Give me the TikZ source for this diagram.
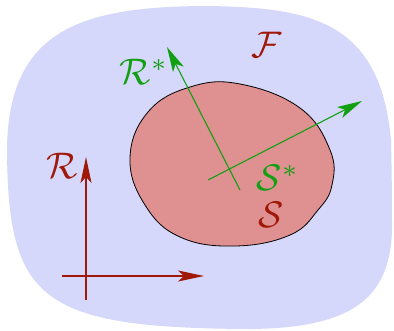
\documentclass[tikz,border=0pt]{standalone}
\usetikzlibrary{arrows.meta}
\definecolor{bgblue}{HTML}{D5D7FB}
\definecolor{blobred}{HTML}{DF9090}
\definecolor{dred}{HTML}{A01808}
\definecolor{dgreen}{HTML}{12A012}
\tikzset{
  lbl/.style={inner sep=0pt, scale=3.7, transform shape},
  redax/.style={draw=dred, line width=1.3pt, -{Stealth[length=26pt,width=11pt,inset=6pt]}},
  grnax/.style={draw=dgreen, line width=1.1pt, -{Stealth[length=25pt,width=12pt,inset=6pt]}}
}
\begin{document}
\begin{tikzpicture}[x=1pt,y=-1pt]
\useasboundingbox (0,0) rectangle (394,330);
% background region
\fill[bgblue] (7,150) .. controls (8,30) and (80,6) .. (210,6)
  .. controls (310,8) and (380,20) .. (391,140)
  .. controls (392,185) and (392,205) .. (392,230)
  .. controls (390,300) and (350,328) .. (250,329)
  .. controls (40,328) and (8,300) .. (7,150) -- cycle;
% body
\draw[fill=blobred, line width=0.8pt] plot[smooth cycle, tension=0.7] coordinates {
  (130,158) (148,112) (190,87) (240,84) (300,108) (330,150) (332,185)
  (318,210) (290,235) (235,246) (180,237) (145,205)};
% frame R
\coordinate (ro) at (86,300);
\coordinate (ry) at (86,157);
\coordinate (rx0) at (62,276);
\coordinate (rx) at (204,276);
\draw[redax] (ro) -- (ry);
\draw[redax] (rx0) -- (rx);
% frame R*
\coordinate (so) at (240,190);
\coordinate (sy) at (167,47);
\coordinate (sx0) at (208,180);
\coordinate (sx) at (362,101);
\draw[grnax] (so) -- (sy);
\draw[grnax] (sx0) -- (sx);
% labels
\node[lbl, text=dred] (F) at (267,45) {$\mathcal{F}$};
\node[lbl, text=dgreen] (Rs) at (144,72) {$\mathcal{R}^*$};
\node[lbl, text=dred] (R) at (62,166) {$\mathcal{R}$};
\node[lbl, text=dgreen] (Ss) at (278,178) {$\mathcal{S}^*$};
\node[lbl, text=dred] (S) at (271,215) {$\mathcal{S}$};
\end{tikzpicture}
\end{document}
